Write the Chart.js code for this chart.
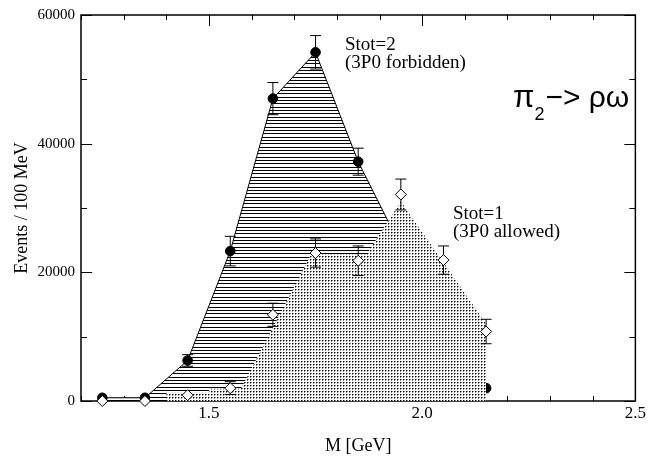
<!DOCTYPE html>
<html>
<head>
<meta charset="utf-8">
<script src="https://cdn.jsdelivr.net/npm/chart.js@4.4.1/dist/chart.umd.min.js"></script>
<style>
html,body{margin:0;padding:0;background:#fff}
#wrap{width:648px;height:457px}
</style>
</head>
<body>
<div id="wrap"><canvas id="c"></canvas></div>
<script>
// mass bins (GeV)
const massBins = [1.25,1.35,1.45,1.55,1.65,1.75,1.85,1.95,2.05,2.15];
// Stot=2 data points (filled circles)
const stot2X   = [1.25,1.35,1.45,1.55,1.65,1.75,1.85,2.15];
const stot2Y   = [500,500,6300,23300,47000,54200,37200,2000];
const stot2Err = [0,0,900,2300,2500,2600,2100,0];
// Stot=1 data points (open diamonds)
const stot1Y   = [0,0,900,2000,13400,23000,21800,32100,21900,10800];
const stot1Err = [0,0,0,1000,1800,2200,2300,2400,2200,1900];
// hatched band, Stot=2
const band2Y = [500,500,6300,23300,47000,54200,37200,24000,12000,2000];
// dotted band, Stot=1
const band1X = [1.40,1.40,1.50,1.50,1.575,1.74,1.87,1.95,2.15,2.15];
const band1Y = [0,1300,1300,1900,1900,22800,22800,31000,12000,0];
// labelled ticks
const xLabels = [1.5,2.0,2.5];
const yLabels = [0,20000,40000,60000];

const pts = (xs,ys)=>xs.map((x,i)=>({x:x,y:ys[i]}));
const near = (v,list)=>list.some(l=>Math.abs(l-v)<1e-6);

function hatchPattern(){
  const c=document.createElement('canvas'); c.width=4; c.height=10;
  const g=c.getContext('2d');
  g.fillStyle='#fff'; g.fillRect(0,0,4,10);
  g.fillStyle='#000'; [0,3,7].forEach(y=>g.fillRect(0,y,4,1));
  return g.createPattern(c,'repeat');
}
function dotPattern(){
  const c=document.createElement('canvas'); c.width=3; c.height=3;
  const g=c.getContext('2d');
  g.fillStyle='#fff'; g.fillRect(0,0,3,3);
  g.fillStyle='#000'; g.fillRect(1,1,1,1);
  g.fillStyle='#888'; g.fillRect(2,1,1,1); g.fillRect(1,2,1,1);
  return g.createPattern(c,'repeat');
}

const frame = {
  id:'frame',
  beforeDatasetsDraw(chart){
    const {ctx, chartArea:a, scales:{x,y}} = chart;
    ctx.save();
    ctx.strokeStyle='#000'; ctx.lineWidth=1.5;
    ctx.strokeRect(a.left,a.top,a.right-a.left,a.bottom-a.top);
    ctx.lineWidth=1;
    ctx.beginPath();
    x.ticks.forEach(t=>{
      const px=Math.round(x.getPixelForValue(t.value))+0.5;
      const len=near(t.value,xLabels)?11:5;
      ctx.moveTo(px,a.bottom); ctx.lineTo(px,a.bottom-len);
      ctx.moveTo(px,a.top); ctx.lineTo(px,a.top+len);
    });
    y.ticks.forEach(t=>{
      const py=Math.round(y.getPixelForValue(t.value))+0.5;
      const len=near(t.value,yLabels)?11:6;
      ctx.moveTo(a.left,py); ctx.lineTo(a.left+len,py);
      ctx.moveTo(a.right,py); ctx.lineTo(a.right-len,py);
    });
    ctx.stroke();
    ctx.restore();
  }
};

const errorBars = {
  id:'errorBars',
  beforeDatasetDraw(chart,args){
    const ds=chart.data.datasets[args.index];
    if(!ds.errors) return;
    const {ctx, scales:{y}} = chart;
    ctx.save();
    ctx.strokeStyle='#000'; ctx.lineWidth=1;
    ctx.beginPath();
    args.meta.data.forEach((p,i)=>{
      const e=ds.errors[i]; if(!e) return;
      const v=ds.data[i].y;
      const top=y.getPixelForValue(v+e), bot=y.getPixelForValue(v-e);
      ctx.moveTo(p.x,top); ctx.lineTo(p.x,bot);
      ctx.moveTo(p.x-5.5,top); ctx.lineTo(p.x+5.5,top);
      ctx.moveTo(p.x-5.5,bot); ctx.lineTo(p.x+5.5,bot);
    });
    ctx.stroke();
    ctx.restore();
  }
};

const notes = {
  id:'notes',
  afterDraw(chart){
    const {ctx} = chart;
    ctx.save();
    ctx.fillStyle='#000';
    ctx.textBaseline='alphabetic';
    ctx.font='19px "Liberation Serif"';
    ctx.fillText('Stot=2',345,50);
    ctx.fillText('(3P0 forbidden)',345,68);
    ctx.fillText('Stot=1',453,219);
    ctx.fillText('(3P0 allowed)',453,237);
    let x0=513;
    ctx.font='31px "Liberation Sans"';
    ctx.fillText('π',x0,107); x0+=ctx.measureText('π').width;
    ctx.font='18px "Liberation Sans"';
    ctx.fillText('2',x0,120); x0+=ctx.measureText('2').width+1;
    ctx.font='30px "Liberation Sans"';
    ctx.fillText('−> ρω',x0,107);
    ctx.restore();
  }
};

new Chart(document.getElementById('c'),{
  type:'scatter',
  data:{datasets:[
    {label:'Stot=1', data:pts(massBins,stot1Y), errors:stot1Err, order:0, clip:false,
     pointStyle:'rectRot', pointRadius:5.5, backgroundColor:'#fff', borderColor:'#000', borderWidth:1, showLine:false},
    {label:'Stot=1 band', data:pts(band1X,band1Y), order:1, showLine:true, fill:'origin',
     backgroundColor:dotPattern(), borderWidth:0, borderColor:'rgba(0,0,0,0)', pointRadius:0, tension:0},
    {label:'Stot=2', data:pts(stot2X,stot2Y), errors:stot2Err, order:2, clip:false,
     pointStyle:'circle', pointRadius:4.8, backgroundColor:'#000', borderColor:'#000', borderWidth:1, showLine:false},
    {label:'Stot=2 band', data:pts(massBins,band2Y), order:3, showLine:true, fill:'origin',
     backgroundColor:hatchPattern(), borderColor:'#000', borderWidth:1, pointRadius:0, tension:0}
  ]},
  options:{
    responsive:true, maintainAspectRatio:false, animation:false, events:[],
    layout:{padding:{top:12,right:11,left:0,bottom:0}},
    plugins:{legend:{display:false}, tooltip:{enabled:false}},
    scales:{
      x:{type:'linear', min:1.2, max:2.5,
         afterFit(s){ s.height=56; },
         grid:{display:false, drawTicks:false}, border:{display:false},
         ticks:{stepSize:0.1, padding:2, color:'#000', maxRotation:0, autoSkip:false,
                font:{family:'"Liberation Serif"', size:17},
                callback:v=>near(v,xLabels)?v.toFixed(1):''},
         title:{display:true, text:'M [GeV]', color:'#000', padding:{top:0,bottom:0},
                font:{family:'"Liberation Serif"', size:18}}},
      y:{type:'linear', min:0, max:60000,
         afterFit(s){ s.width=81; },
         grid:{display:false, drawTicks:false}, border:{display:false},
         ticks:{stepSize:10000, padding:6, color:'#000', autoSkip:false,
                font:{family:'"Liberation Serif"', size:15},
                callback:v=>near(v,yLabels)?String(v):''},
         title:{display:true, text:'Events / 100 MeV', color:'#000', padding:{top:11,bottom:0},
                font:{family:'"Liberation Serif"', size:18}}}
    }
  },
  plugins:[frame, errorBars, notes]
});
</script>
</body>
</html>
